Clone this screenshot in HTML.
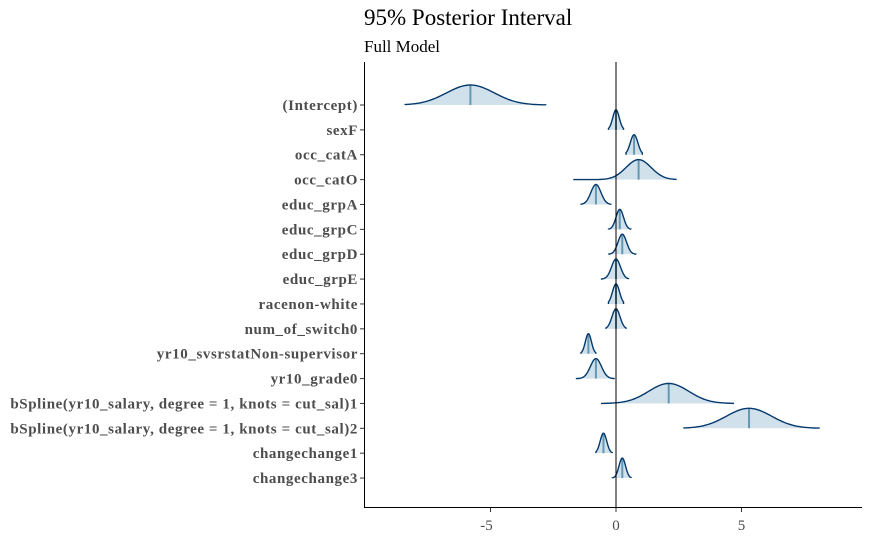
<!DOCTYPE html>
<html><head><meta charset="utf-8"><style>
body{margin:0;background:#fff}
svg{display:block;font-family:"Liberation Serif",serif}
</style></head><body>
<svg width="875" height="540" viewBox="0 0 875 540">
<text x="364" y="25" font-size="23" fill="#000">95% Posterior Interval</text>
<text x="364" y="52" font-size="17" fill="#000">Full Model</text>
<g id="marks"></g>
<line x1="364.5" y1="62" x2="364.5" y2="508" stroke="#000" stroke-width="1"/>
<line x1="364" y1="507.5" x2="862" y2="507.5" stroke="#000" stroke-width="1"/>
<g id="axes"></g>
</svg>
<script>
const params=["(Intercept)","sexF","occ_catA","occ_catO","educ_grpA","educ_grpC","educ_grpD","educ_grpE","racenon-white","num_of_switch0","yr10_svsrstatNon-supervisor","yr10_grade0","bSpline(yr10_salary, degree = 1, knots = cut_sal)1","bSpline(yr10_salary, degree = 1, knots = cut_sal)2","changechange1","changechange3"];
const medians=[-5.8,0.0,0.72,0.9,-0.8,0.15,0.25,0.0,0.0,0.0,-1.1,-0.8,2.1,5.3,-0.5,0.25];
const sds=[0.95,0.13,0.15,0.5,0.2,0.15,0.17,0.18,0.14,0.16,0.12,0.22,0.8,0.9,0.13,0.13];
const lows=[-8.4,-0.3,0.4,-1.7,-1.4,-0.3,-0.3,-0.6,-0.3,-0.4,-1.4,-1.6,-0.6,2.7,-0.8,-0.15];
const highs=[-2.8,0.3,1.05,2.4,-0.2,0.6,0.8,0.5,0.3,0.4,-0.8,-0.05,4.7,8.1,-0.15,0.6];
const xTicks=[-5,0,5];
const ns="http://www.w3.org/2000/svg";
const X=v=>616+v*25.1;
const Y=i=>105+i*24.87;
const marks=document.getElementById('marks'),axes=document.getElementById('axes');
function mk(tag,at,parent){const e=document.createElementNS(ns,tag);for(const k in at)e.setAttribute(k,at[k]);parent.appendChild(e);return e;}
const H=20;
params.forEach((p,i)=>{
  const m=medians[i],s=sds[i],y0=Y(i);
  const g=mk('g',{},marks);
  
  
  const dens=v=>Math.exp(-0.5*((v-m)/s)**2);
  let a=m-2.4*s,b=m+2.4*s,d=`M${X(a)},${y0}`;
  for(let k=0;k<=60;k++){const v=a+(b-a)*k/60;d+=` L${X(v)},${y0-H*dens(v)}`;}
  d+=` L${X(b)},${y0} Z`;
  const sh=mk('path',{d:d,fill:'#d1e1ec',stroke:'none'},g);
  
  
  const ml=mk('line',{x1:X(m),x2:X(m),y1:y0,y2:y0-H,stroke:'#6497b1','stroke-width':2},g);
  
  
  let a2=Math.max(lows[i],m-3.2*s),b2=Math.min(highs[i],m+3.2*s),d2=`M${X(lows[i])},${y0} L${X(a2)},${y0}`;
  for(let k=0;k<=80;k++){const v=a2+(b2-a2)*k/80;d2+=` L${X(v)},${y0-H*dens(v)}`;}
  d2+=` L${X(b2)},${y0} L${X(highs[i])},${y0}`;
  const ol=mk('path',{d:d2,fill:'none',stroke:'#03396c','stroke-width':1.4},g);
  
  
  const t=mk('text',{x:358,y:y0+5,'text-anchor':'end','font-size':15,'letter-spacing':0.6,'font-weight':'bold',fill:'#4d4d4d'},axes);
  t.textContent=p;
  
  
  const tk=mk('line',{x1:360,x2:364,y1:y0,y2:y0,stroke:'#333','stroke-width':1},axes);
  
  
});
const zl=mk('line',{x1:X(0),x2:X(0),y1:62,y2:508,stroke:'#000','stroke-width':1},marks);


xTicks.forEach(v=>{
  const tk=mk('line',{x1:X(v),x2:X(v),y1:508,y2:512,stroke:'#333','stroke-width':1},axes);
  
  
  const t=mk('text',{x:X(v)-(v<0?4:0),y:530,'text-anchor':'middle','font-size':15,fill:'#4d4d4d'},axes);
  t.textContent=v<0?'-'+Math.abs(v):String(v);
  
  
});
</script>
</body></html>
